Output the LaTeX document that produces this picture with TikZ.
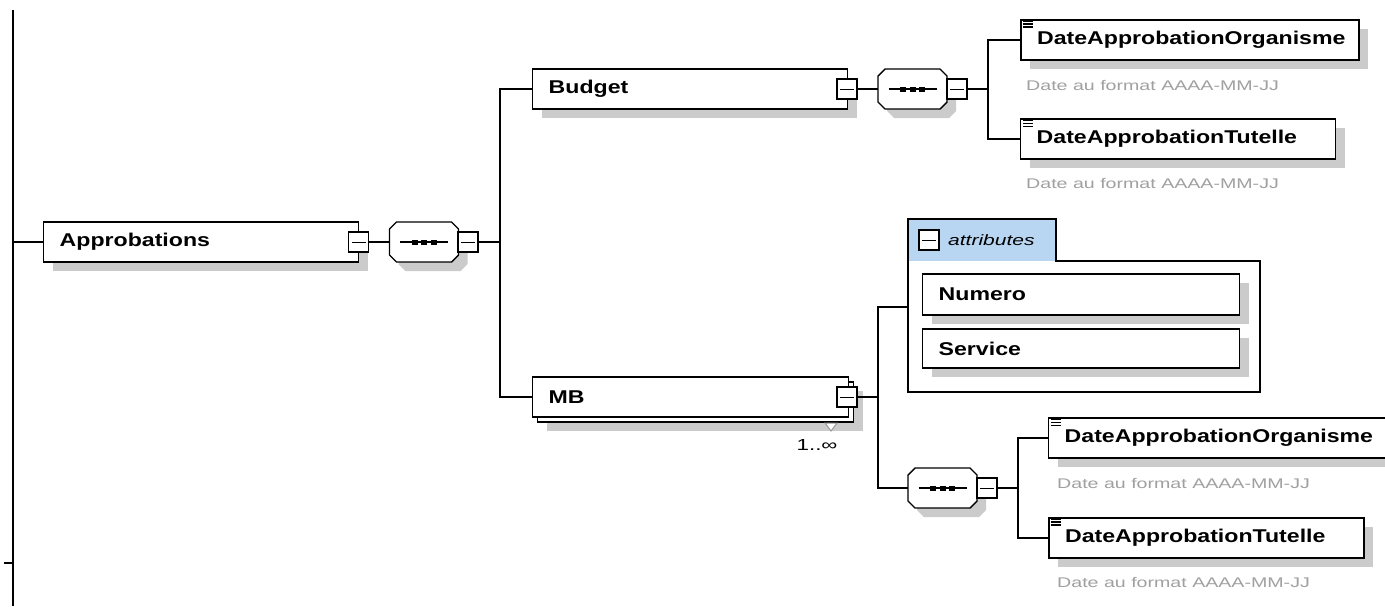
\documentclass[tikz,border=0pt]{standalone}
\usepackage{fontspec}
\usetikzlibrary{shadows}
\newfontfamily\lblfam[FakeStretch=1.25]{Liberation Sans}
\newfontfamily\notefam[FakeStretch=1.4]{Liberation Sans}
\definecolor{shgray}{HTML}{CBCBCB}
\definecolor{notegray}{HTML}{A0A0A0}
\definecolor{tabblue}{HTML}{B8D5F2}
\newcommand\octshape{(-27.5,-20) -- (27.5,-20) -- (34.5,-13) -- (34.5,13) -- (27.5,20) -- (-27.5,20) -- (-34.5,13) -- (-34.5,-13) -- cycle}
\newcommand\octo[1]{%
  \begin{scope}[shift={(#1.center)}]
    \begin{scope}[shift={(9,9)}]
      \fill[shgray] \octshape;
    \end{scope}
    \filldraw[fill=white, line width=1.4pt] \octshape;
    \draw[line width=1.3pt] (-24,0) -- (24,0);
    \foreach \dx in {-9.5,0,9.5}{\fill (\dx-3,-2.5) rectangle (\dx+3,2.5);}
  \end{scope}%
}
\newcommand\docicon[1]{%
  \foreach \dy in {0,3,6}{\draw[line width=1.2pt] ([xshift=3pt,yshift=-2pt-\dy pt]#1.north west) -- ++(10pt,0pt);}%
}
\tikzset{
  conn/.style={line width=1.8pt},
  boxshadow/.style={drop shadow={shadow xshift=9pt,shadow yshift=-9pt,fill=shgray,opacity=1}},
  elembase/.style={draw, fill=white, line width=1.4pt, anchor=west, inner xsep=16pt, inner ysep=0pt,
    minimum height=40pt, align=left, font=\lblfam\bfseries\fontsize{18.5}{20}\selectfont},
  elem/.style={elembase, boxshadow},
  minusbox/.style={draw, fill=white, line width=1.2pt, minimum size=20pt, inner sep=0pt,
    path picture={\draw[line width=1pt] ([xshift=3pt]path picture bounding box.west) -- ([xshift=-3pt]path picture bounding box.east);}},
  seqbox/.style={rectangle, minimum width=69pt, minimum height=40pt, inner sep=0pt},
  note/.style={anchor=west, inner sep=0pt, text=notegray, font=\notefam\fontsize{14}{16}\selectfont},
}
\begin{document}
\begin{tikzpicture}[x=1pt,y=-1pt]
\clip (0,0) rectangle (1385,606);
\fill[white] (0,0) rectangle (1385,606);

% root line
\coordinate (rootT) at (13,10);
\coordinate (rootB) at (13,606);
\coordinate (tickL) at (4,563);
\draw[conn] (rootT) -- (rootB);
\draw[line width=1.2pt] (tickL) -- (tickL -| rootT);

% Approbations
\node[elem, text width=283pt] (appr) at (43,242) {Approbations};
\node[minusbox] (apprm) at (358.5,242) {};
\node[seqbox] (seq1) at (424,242) {};
\octo{seq1}
\node[minusbox] (seq1m) at (468,242) {};
\coordinate (busA) at (500,242);

% Budget
\node[elem, text width=283pt] (budget) at (532,89) {Budget};
\node[minusbox] (budgetm) at (847,89) {};
\node[seqbox] (seq2) at (912.5,89) {};
\octo{seq2}
\node[minusbox] (seq2m) at (957,89) {};
\coordinate (busB) at (988,89);

\node[elem, text width=306pt, line width=2.2pt] (d1) at (1020,40) {DateApprobationOrganisme};
\docicon{d1}
\node[note] (n1) at (1026,85) {Date au format AAAA-MM-JJ};
\node[elem, text width=283pt] (d2) at (1020,139) {DateApprobationTutelle};
\docicon{d2}
\node[note] (n2) at (1026,183) {Date au format AAAA-MM-JJ};

% MB
\node[elem, text width=284pt, minimum height=40pt] (mbback) at (537,402) {};
\node[elembase, text width=284pt] (mb) at (532,397) {MB};
\node[minusbox] (mbm) at (847,397) {};
\coordinate (triA) at (825,423);
\coordinate (triB) at (837,423);
\coordinate (triC) at (831,431);
\draw[line width=1pt, draw=gray!80, fill=white] (triA) -- (triB) -- (triC) -- cycle;
\node[inner sep=0pt, font=\notefam\fontsize{16}{18}\selectfont] (mult) at (817,445) {1..∞};
\coordinate (busC) at (878,397);

% attributes
\coordinate (attrW) at (908,307);
\fill[tabblue] (908,219) rectangle (1056,261);
\draw[line width=1.4pt] (908,219) -- (1056,219) -- (1056,261) -- (1260,261) -- (1260,392) -- (908,392) -- cycle;
\node[minusbox] (attrm) at (929,240) {};
\node[anchor=west, inner sep=0pt, font=\notefam\itshape\fontsize{15}{17}\selectfont] (attrlbl) at (948,240) {attributes};
\node[elem, text width=285pt, minimum height=41pt] (numero) at (922,294.5) {Numero};
\node[elem, text width=285pt, minimum height=39pt] (service) at (922,348.5) {Service};

% MB sequence
\node[seqbox] (seq3) at (942.5,488) {};
\octo{seq3}
\node[minusbox] (seq3m) at (987,488) {};
\coordinate (busD) at (1018,488);

\node[elem, text width=320pt] (d3) at (1048,438) {DateApprobationOrganisme};
\docicon{d3}
\node[note] (n3) at (1057,483) {Date au format AAAA-MM-JJ};
\node[elem, text width=283pt, line width=2.2pt] (d4) at (1048,538) {DateApprobationTutelle};
\docicon{d4}
\node[note] (n4) at (1057,582) {Date au format AAAA-MM-JJ};

% connectors
\draw[conn] (appr.west) -- (appr.west -| rootT);
\draw[conn] (apprm.east) -- (seq1.west);
\draw[conn] (seq1m.east) -- (busA);
\draw[conn] (budget.west) -| (busA);
\draw[conn] (mb.west) -| (busA);
\draw[conn] (budgetm.east) -- (seq2.west);
\draw[conn] (seq2m.east) -- (busB);
\draw[conn] (d1.west) -| (busB);
\draw[conn] (d2.west) -| (busB);
\draw[conn] (mbm.east) -- (busC);
\draw[conn] (attrW) -| (busC);
\draw[conn] (seq3.west) -| (busC);
\draw[conn] (seq3m.east) -- (busD);
\draw[conn] (d3.west) -| (busD);
\draw[conn] (d4.west) -| (busD);
\end{tikzpicture}
\end{document}
